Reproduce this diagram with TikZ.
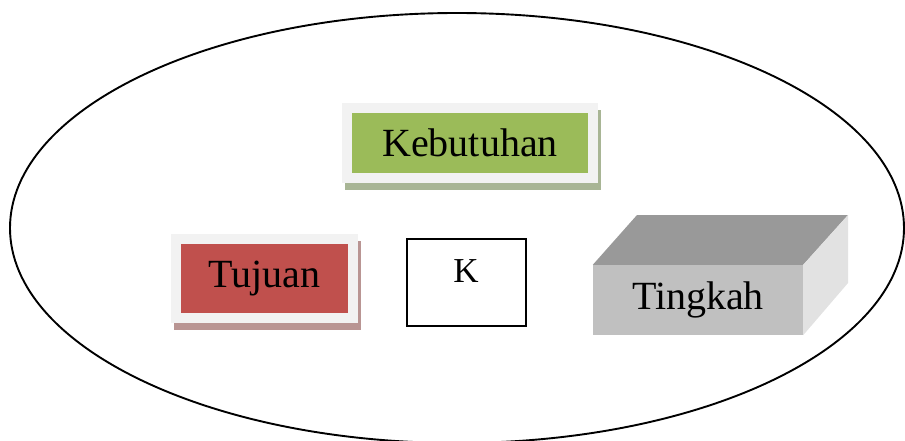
\documentclass[tikz,border=0pt]{standalone}
\usepackage{fontspec}
\setmainfont{Liberation Serif}
\usetikzlibrary{backgrounds}

\definecolor{kebgreen}{HTML}{9BBB59}
\definecolor{kebshadow}{HTML}{A8B595}
\definecolor{tujred}{HTML}{C0504D}
\definecolor{tujshadow}{HTML}{B99593}
\definecolor{framegray}{HTML}{F2F2F2}
\definecolor{boxtop}{HTML}{999999}
\definecolor{boxfront}{HTML}{C0C0C0}
\definecolor{boxside}{HTML}{E2E2E2}

\tikzset{
  framebox/.style={draw=framegray, line width=10pt, outer sep=5pt, inner sep=0pt,
    font=\fontsize{40}{44}\selectfont},
  plainbox/.style={draw=black, line width=1.4pt, inner sep=0pt,
    minimum width=119pt, minimum height=87pt},
}

\begin{document}
\begin{tikzpicture}[x=1pt, y=-1pt]
    \useasboundingbox (0,0) rectangle (905,441);

    % outer ellipse
    \draw[line width=1.9pt] (457,228) ellipse [x radius=447pt, y radius=215pt];

    % Kebutuhan
    \node[framebox, fill=kebgreen, minimum width=246pt, minimum height=70pt] (keb) at (470,143) {Kebutuhan};
    % Tujuan
    \node[framebox, fill=tujred, minimum width=177pt, minimum height=79pt] (tuj) at (264.5,278.5) {Tujuan};
    \begin{scope}[on background layer]
        \fill[kebshadow] ([shift={(3pt,-7pt)}]keb.north west) rectangle ([shift={(3pt,-7pt)}]keb.south east);
        \fill[tujshadow] ([shift={(3pt,-7pt)}]tuj.north west) rectangle ([shift={(3pt,-7pt)}]tuj.south east);
    \end{scope}

    % K
    \node[plainbox] (kbox) at (466.5,282.5) {};
    \node[font=\fontsize{35}{40}\selectfont] (k) at (466,271) {K};

    % Tingkah
    \node[fill=boxfront, inner sep=0pt, minimum width=210pt, minimum height=70pt,
          font=\fontsize{40}{44}\selectfont] (ting) at (698,300) {Tingkah};
    \coordinate (tingback) at (848,215); \coordinate (tingleft) at (637,215);
    \coordinate (tingbottom) at (848,283);
    \fill[boxtop] (ting.north west)--(tingleft)--(tingback)--(ting.north east)--cycle;
    \fill[boxside] (ting.north east)--(tingback)--(tingbottom)--(ting.south east)--cycle;
\end{tikzpicture}
\end{document}
